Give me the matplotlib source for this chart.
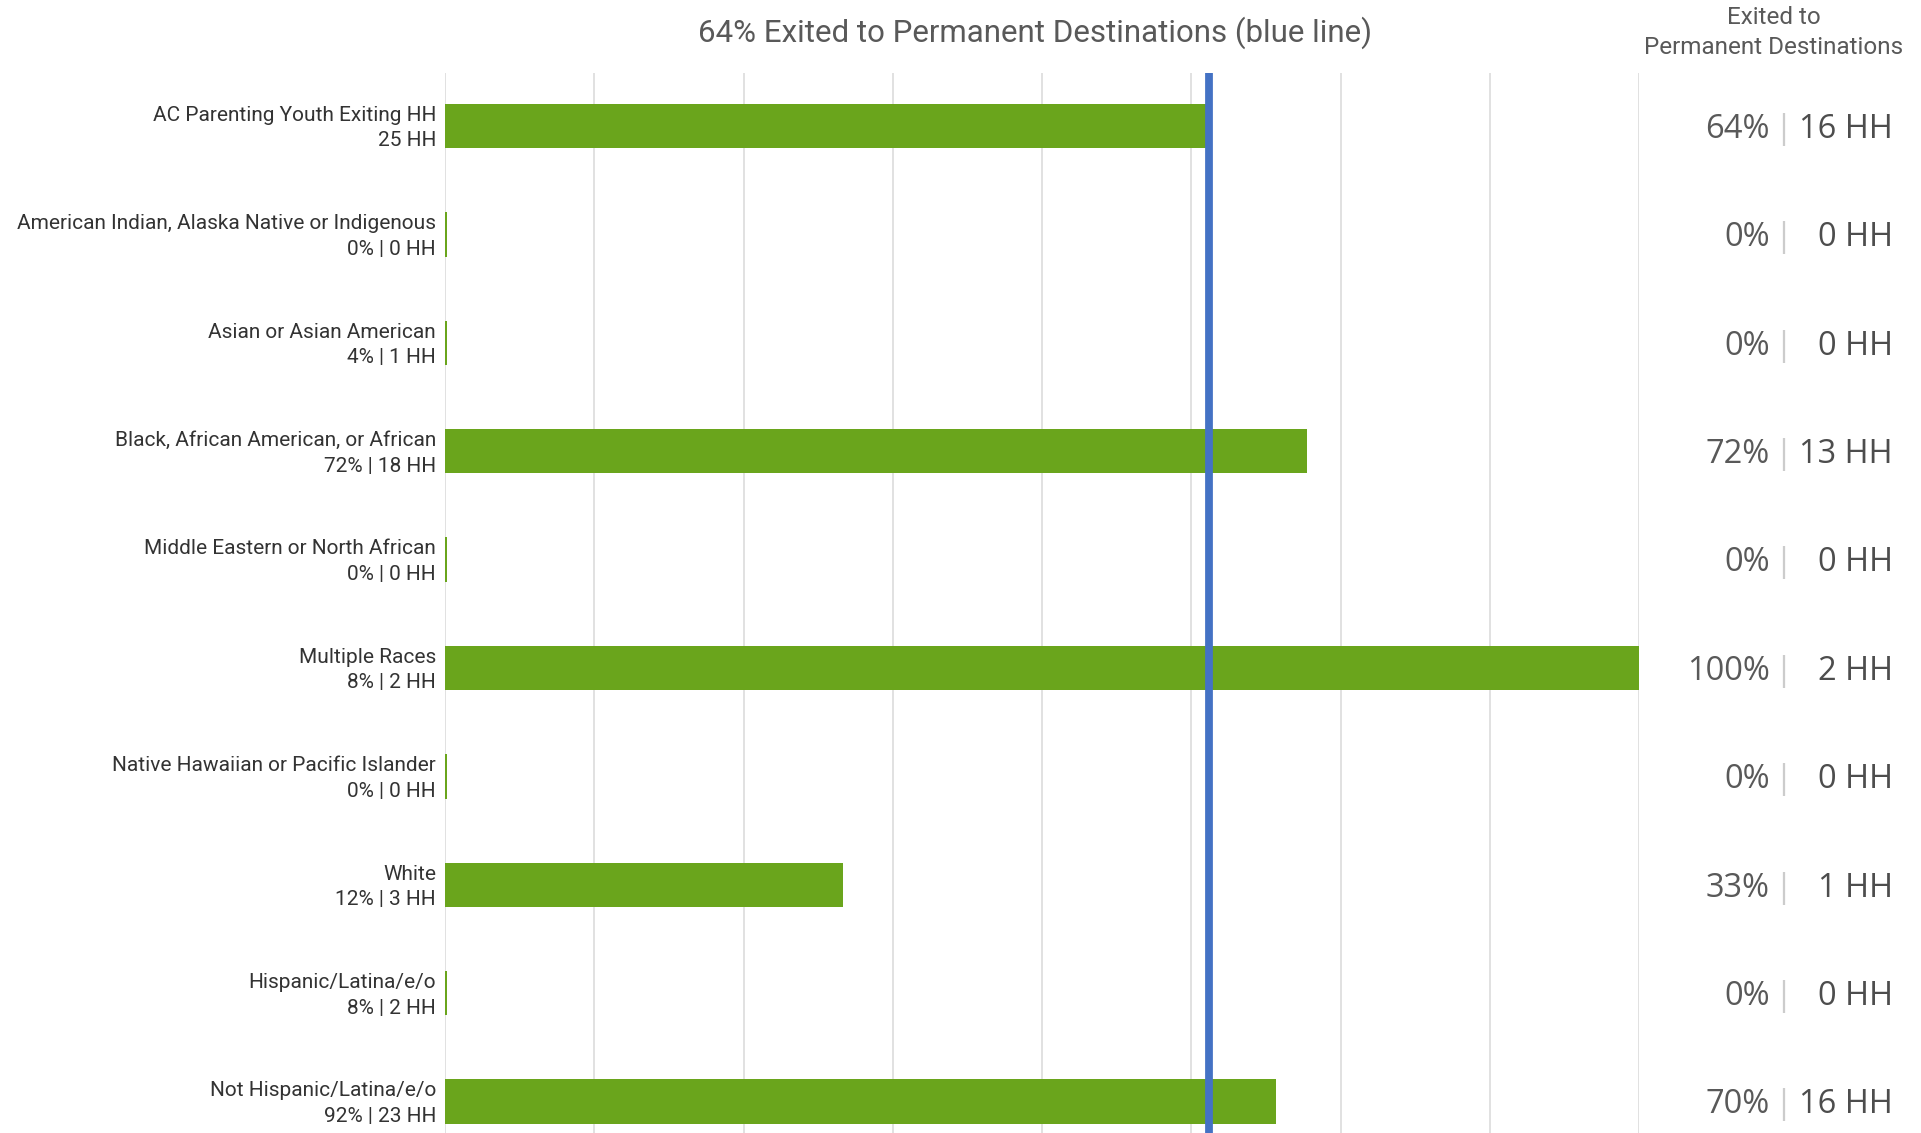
import numpy as np
import matplotlib
matplotlib.use("Agg")
import matplotlib.pyplot as plt
from matplotlib import transforms

# ─── Data ────────────────────────────────────────────────────────────────
categories = [
    "AC Parenting Youth Exiting HH",
    "American Indian, Alaska Native or Indigenous",
    "Asian or Asian American",
    "Black, African American, or African",
    "Middle Eastern or North African",
    "Multiple Races",
    "Native Hawaiian or Pacific Islander",
    "White",
    "Hispanic/Latina/e/o",
    "Not Hispanic/Latina/e/o",
]
share_labels = [
    "25 HH", "0% | 0 HH", "4% | 1 HH", "72% | 18 HH", "0% | 0 HH",
    "8% | 2 HH", "0% | 0 HH", "12% | 3 HH", "8% | 2 HH", "92% | 23 HH",
]
exit_pct = [64.0, 0.0, 0.0, 72.2, 0.0, 100.0, 0.0, 33.3, 0.0, 69.6]
exit_pct_label = [64, 0, 0, 72, 0, 100, 0, 33, 0, 70]
exit_hh = [16, 0, 0, 13, 0, 2, 0, 1, 0, 16]
overall_pct = 64
grid_ticks = np.arange(0, 101, 12.5)

GREEN = "#6aa51c"
BLUE = "#4472c4"
GRID = "#d9d9d9"
GRAY_TXT = "#595959"
DARK_TXT = "#333333"

plt.rcParams["font.family"] = ["Roboto", "DejaVu Sans"]

W, H = 1921, 1133
fig = plt.figure(figsize=(W / 100, H / 100), dpi=100)

# axes box in pixels
x0, x1 = 445, 1639
y_top = 73
row0, row_step = 126, 108.4
ax = fig.add_axes([x0 / W, 0, (x1 - x0) / W, (H - y_top) / H])

y = np.arange(len(categories))
widths = [max(v, 0.2) for v in exit_pct]
ax.barh(y, widths, height=0.41, color=GREEN, zorder=2)
ax.axvline(overall_pct, color=BLUE, lw=5.6, zorder=3)

ax.set_xlim(0, 100)
ax.set_ylim((H - row0) / row_step, (y_top - row0) / row_step)
ax.set_xticks(grid_ticks)
ax.set_yticks([])
ax.tick_params(axis="x", length=0, labelbottom=False)
ax.grid(axis="x", color=GRID, lw=1.1, zorder=0)
for s in ax.spines.values():
    s.set_visible(False)

# left labels
for i, (cat, sh) in enumerate(zip(categories, share_labels)):
    ax.annotate(f"{cat}\n{sh}", xy=(0, i), xytext=(-6.5, -1.5), textcoords="offset points",
                ha="right", va="center", ma="right", fontsize=15, color=DARK_TXT,
                linespacing=1.45, annotation_clip=False)

# right value columns
tr = transforms.blended_transform_factory(fig.transFigure, ax.transData)
val_font = ["Open Sans", "DejaVu Sans"]
for i, (p, n) in enumerate(zip(exit_pct_label, exit_hh)):
    yy = i + 0.03
    ax.text(1770 / W, yy, f"{p}%", transform=tr, ha="right", va="center",
            fontsize=23.5, color=GRAY_TXT, family=val_font)
    ax.text(1783 / W, yy, "|", transform=tr, ha="center", va="center",
            fontsize=23.5, color="#cccccc", family=val_font)
    ax.text(1893 / W, yy, f"{n} HH", transform=tr, ha="right", va="center",
            fontsize=23.5, color="#4d4d4d", family=val_font)

fig.text(1035 / W, 1 - 33 / H, "64% Exited to Permanent Destinations (blue line)",
         ha="center", va="center", fontsize=22.5, color=GRAY_TXT)
fig.text(1774 / W, 1 - 17 / H, "Exited to", ha="center", va="center",
         fontsize=17.5, color=GRAY_TXT)
fig.text(1774 / W, 1 - 47 / H, "Permanent Destinations", ha="center", va="center",
         fontsize=17.5, color=GRAY_TXT)

fig.savefig("out.png", dpi=100, facecolor="white")
